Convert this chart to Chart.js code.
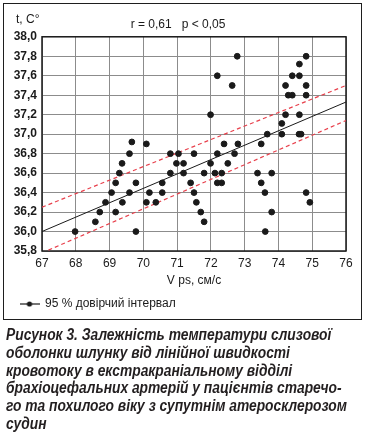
<!DOCTYPE html>
<html>
<head>
<meta charset="utf-8">
<script src="https://cdn.jsdelivr.net/npm/chart.js@4.4.1/dist/chart.umd.min.js"></script>
<style>
  html, body { margin: 0; padding: 0; background: #fff; }
  #wrap { position: relative; width: 368px; height: 438px; overflow: hidden; }
  #chart { position: absolute; left: 0; top: 0; }
  #frame { position: absolute; left: 3px; top: 3px; width: 359px; height: 317px;
           border: 1.5px solid #1e1e1e; box-sizing: border-box; }
  #caption { position: absolute; left: 6px; top: 326px; color: #231f20; white-space: nowrap;
             font: italic bold 16px "Liberation Sans", Arial, sans-serif;
             line-height: 17.8px; transform-origin: 0 0; }
</style>
</head>
<body>
<div id="wrap">
  <canvas id="chart" width="368" height="320"></canvas>
  <div id="frame"></div>
  <div id="caption">
    <div><span>Рисунок 3. Залежність температури слизової</span></div>
    <div><span>оболонки шлунку від лінійної швидкості</span></div>
    <div><span>кровотоку в екстракраніальному відділі</span></div>
    <div><span>брахіоцефальних артерій у пацієнтів старечо-</span></div>
    <div><span id="longest">го та похилого віку з супутнім атеросклерозом</span></div>
    <div><span>судин</span></div>
  </div>
</div>
<script>
// V ps, cm/s
const velocity = [
  67.98, 68.58, 68.71, 68.88, 69.06, 69.18, 69.18, 69.29, 69.37, 69.38,
  69.59, 69.59, 69.66, 69.78, 69.78, 70.09, 70.09, 70.18, 70.37, 70.56,
  70.56, 70.80, 70.80, 71.04, 70.98, 71.19, 71.19, 71.40, 71.50, 71.50,
  71.57, 71.70, 71.80, 71.80, 71.99, 71.99, 72.12, 72.19, 72.19, 72.19,
  72.32, 72.32, 72.39, 72.50, 72.63, 72.70, 72.78, 72.80, 73.38, 73.49,
  73.49, 73.60, 73.61, 73.67, 73.80, 73.80, 74.10, 74.10, 74.21, 74.21,
  74.29, 74.41, 74.41, 74.62, 74.62, 74.62, 74.61, 74.67, 74.82, 74.82,
  74.82, 74.82, 74.93
];
// t, C
const temperature = [
  36.0, 36.1, 36.2, 36.3, 36.4, 36.2, 36.5, 36.6, 36.7, 36.3,
  36.4, 36.8, 36.92, 36.5, 36.0, 36.9, 36.3, 36.4, 36.3, 36.5,
  36.4, 36.8, 36.6, 36.8, 36.7, 36.7, 36.6, 36.5, 36.8, 36.4,
  36.3, 36.2, 36.1, 36.6, 36.7, 37.2, 36.6, 36.8, 36.5, 37.6,
  36.6, 36.5, 36.9, 36.7, 37.5, 36.8, 37.8, 36.9, 36.6, 36.5,
  36.9, 36.4, 36.0, 37.0, 36.6, 36.2, 37.0, 37.11, 37.2, 37.5,
  37.4, 37.4, 37.6, 37.6, 37.72, 37.2, 37.0, 37.0, 37.8, 37.5,
  37.4, 36.4, 36.3
];

// regression line and 95% band, end points
const lineX = [67, 76];
const fitY = [36.0, 37.33];
const upperY = [36.25, 37.5];
const lowerY = [35.78, 37.14];

const corrText = "r = 0,61   p < 0,05";
const yUnit = "t, C°";
const xTitle = "V ps, см/с";
const legendText = "95 % довірчий інтервал";

const ink = "#1a1a1a";
const red = "#e8404c";

// caption is a condensed face in the original; squeeze it to the same width
const cap = document.getElementById("caption");
const k = 341 / document.getElementById("longest").getBoundingClientRect().width;
cap.style.transform = "scaleX(" + k + ")";

// legend marker: short line with a dot
const marker = document.createElement("canvas");
marker.width = 20; marker.height = 8;
(() => {
  const c = marker.getContext("2d");
  c.strokeStyle = ink; c.lineWidth = 1.2;
  c.beginPath(); c.moveTo(0, 4); c.lineTo(20, 4); c.stroke();
  c.fillStyle = ink;
  c.beginPath(); c.arc(10, 4, 2.6, 0, Math.PI * 2); c.fill();
})();

const toPts = (xs, ys) => xs.map((x, i) => ({ x: x, y: ys[i] }));

const extras = {
  id: "extras",
  beforeDatasetsDraw(chart) {
    const a = chart.chartArea, ctx = chart.ctx;
    ctx.save();
    ctx.strokeStyle = ink;
    ctx.lineWidth = 1.5;
    ctx.strokeRect(a.left, a.top, a.right - a.left, a.bottom - a.top);
    ctx.restore();
  },
  afterDraw(chart) {
    const ctx = chart.ctx;
    ctx.save();
    ctx.fillStyle = ink;
    ctx.font = '12px "Liberation Sans", Arial, sans-serif';
    ctx.textBaseline = "middle";
    ctx.fillText(yUnit, 16, 20);
    ctx.restore();
  }
};

new Chart(document.getElementById("chart"), {
  data: {
    datasets: [
      { type: "scatter", label: "data", data: toPts(velocity, temperature),
        backgroundColor: ink, borderColor: ink, pointRadius: 2.9, pointHoverRadius: 2.9 },
      { type: "line", label: legendText, data: toPts(lineX, fitY),
        borderColor: ink, borderWidth: 1, pointRadius: 0, pointStyle: marker, clip: 0 },
      { type: "line", label: "upper", data: toPts(lineX, upperY),
        borderColor: red, borderWidth: 1.2, borderDash: [4, 3], pointRadius: 0, clip: 0 },
      { type: "line", label: "lower", data: toPts(lineX, lowerY),
        borderColor: red, borderWidth: 1.2, borderDash: [4, 3], pointRadius: 0, clip: 0 }
    ]
  },
  options: {
    responsive: false,
    animation: false,
    layout: { padding: { left: 10, right: 22, top: 0, bottom: 0 } },
    scales: {
      x: {
        type: "linear", min: 67, max: 76,
        grid: { color: "#8c8c8c", drawTicks: false },
        border: { display: false },
        ticks: { stepSize: 1, padding: 5, color: ink,
                 font: { family: '"Liberation Sans", Arial', size: 12 } },
        title: { display: true, text: xTitle, color: ink, padding: { top: 0, bottom: 0 },
                 font: { family: '"Liberation Sans", Arial', size: 12 } },
        afterFit(s) { s.height = 37; }
      },
      y: {
        type: "linear", min: 35.8, max: 38,
        grid: { color: "#8c8c8c", drawTicks: false },
        border: { display: false },
        ticks: { stepSize: 0.2, padding: 5, color: ink,
                 font: { family: '"Liberation Sans", Arial', size: 12, weight: "bold" },
                 callback: v => v.toFixed(1).replace(".", ",") },
        afterFit(s) { s.width = 32; }
      }
    },
    plugins: {
      title: { display: true, text: corrText, color: ink, padding: { top: 17, bottom: 5.4 },
               font: { family: '"Liberation Sans", Arial', size: 12, weight: "normal" } },
      legend: {
        position: "bottom", align: "start",
        labels: { color: ink, usePointStyle: true, pointStyleWidth: 19,
                  font: { family: '"Liberation Sans", Arial', size: 12 },
                  filter: item => item.datasetIndex === 1 }
      },
      tooltip: { enabled: false }
    }
  },
  plugins: [extras]
});
</script>
</body>
</html>
